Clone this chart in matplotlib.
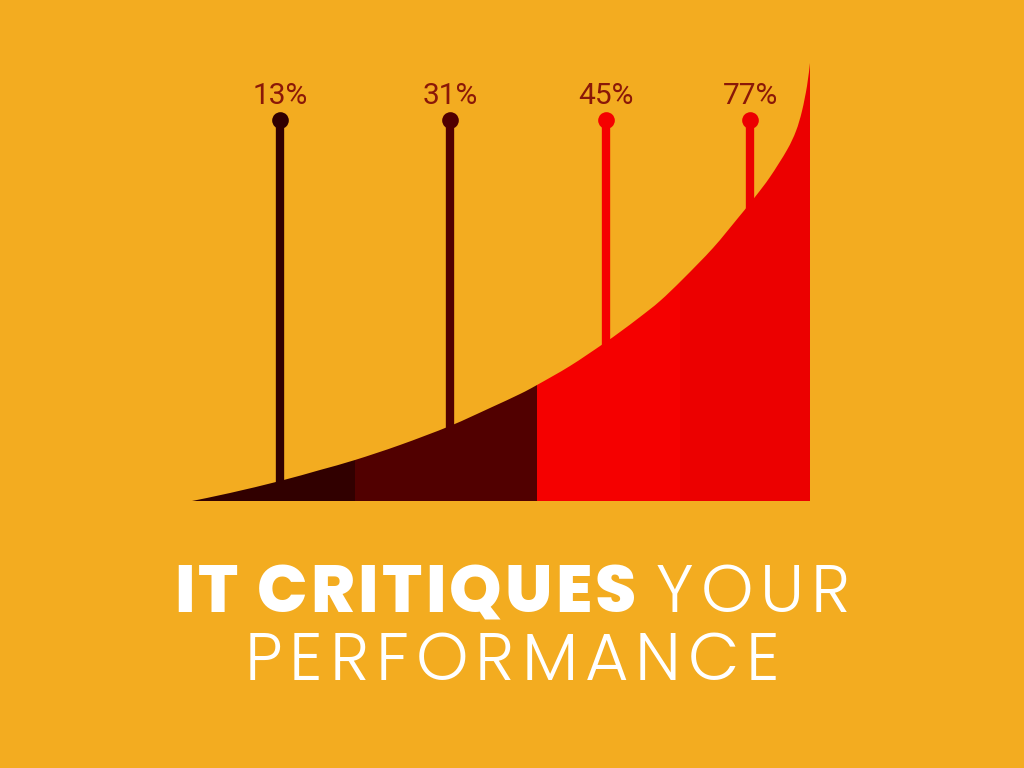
import matplotlib
matplotlib.use("Agg")
import matplotlib.pyplot as plt
from matplotlib.path import Path
from matplotlib.patches import PathPatch, Rectangle

# ---- data ----
curve_x = [192, 230, 280, 320, 355, 400, 450, 490, 520, 537, 570, 603, 620, 640, 660, 683, 713, 738, 755, 770, 787, 796, 802, 807, 810]
curve_h = [0, 8, 20, 31, 41, 56, 75, 93, 107, 116, 135, 157, 169, 184, 200, 222, 253, 283, 304, 324, 351, 370, 390, 415, 438]
segment_edges = [192, 355, 537, 680, 810]
segment_colors = ["#310000", "#510000", "#F50000", "#EC0000"]
pin_x = [280, 450, 606, 750]
pin_labels = ["13%", "31%", "45%", "77%"]
pin_colors = ["#310000", "#510000", "#F50000", "#EC0000"]
pin_top = 381
label_y = 405
bg = "#F3AC20"
label_color = "#8A1808"
title_bold = "IT CRITIQUES "
title_light1 = "YOUR"
title_light2 = "PERFORMANCE"

fig = plt.figure(figsize=(10.24, 7.68), dpi=100, facecolor=bg)
ax = fig.add_axes([0, 0, 1, 1])
ax.set_facecolor(bg)
ax.set_xlim(0, 1024)
ax.set_ylim(501 - 768, 501)
ax.axis("off")

# smooth area outline (Catmull-Rom through the read points, drawn as Bezier)
pts = list(zip(curve_x, curve_h))
verts = [(curve_x[0], 0)]
codes = [Path.MOVETO]
n = len(pts)
for i in range(n - 1):
    p0 = pts[i - 1] if i > 0 else pts[i]
    p1 = pts[i]
    p2 = pts[i + 1]
    p3 = pts[i + 2] if i + 2 < n else pts[i + 1]
    c1 = (p1[0] + (p2[0] - p0[0]) / 6, p1[1] + (p2[1] - p0[1]) / 6)
    c2 = (p2[0] - (p3[0] - p1[0]) / 6, p2[1] - (p3[1] - p1[1]) / 6)
    verts += [c1, c2, p2]
    codes += [Path.CURVE4] * 3
verts += [(curve_x[-1], 0), (curve_x[0], 0)]
codes += [Path.LINETO, Path.CLOSEPOLY]
area = PathPatch(Path(verts, codes), facecolor="none", edgecolor="none")
ax.add_patch(area)

for k, c in enumerate(segment_colors):
    x0, x1 = segment_edges[k], segment_edges[k + 1]
    r = Rectangle((x0, 0), x1 - x0, 600, facecolor=c, edgecolor="none", zorder=3)
    ax.add_patch(r)
    r.set_clip_path(area)

# pins
for x, lab, c in zip(pin_x, pin_labels, pin_colors):
    ax.plot([x, x], [0, pin_top], color=c, lw=6, solid_capstyle="butt", zorder=2)
    ax.plot([x], [pin_top], "o", ms=12, color=c, mec="none", zorder=2)
    ax.text(x, label_y, lab, ha="center", va="center", fontsize=21.5,
            family="Roboto", color=label_color, zorder=4)

# title with letter tracking
fig.canvas.draw()
rr = fig.canvas.get_renderer()
W = 1024
fs = 48
fam = ["Poppins", "Lato"]

def width_of(s, weight):
    if not s:
        return 0.0
    t = fig.text(0, 0, s.replace(" ", "\u00a0") if s.endswith(" ") else s,
                 family=fam, weight=weight, fontsize=fs)
    w = t.get_window_extent(rr).width
    t.remove()
    return w

def run_layout(s, weight, track):
    pos = []
    for i in range(len(s)):
        pos.append(width_of(s[:i], weight) + i * track)
    total = width_of(s, weight) + (len(s) - 1) * track
    return pos, total

def draw_run(s, weight, track, x0, ybase):
    pos, total = run_layout(s, weight, track)
    for ch, p in zip(s, pos):
        if ch != " ":
            fig.text((x0 + p) / W, ybase, ch, family=fam, weight=weight, fontsize=fs,
                     color="white", va="baseline", ha="left")
    return total

tb, tl = 3.1, 7.0
gap = 4.0
_, wb = run_layout(title_bold, 800, tb)
_, wl1 = run_layout(title_light1, 300, tl)
_, wl2 = run_layout(title_light2, 300, tl)
start1 = (W - (wb + gap + wl1)) / 2
base1 = 1 - 612 / 768
base2 = 1 - 680 / 768
draw_run(title_bold, 800, tb, start1, base1)
draw_run(title_light1, 300, tl, start1 + wb + gap, base1)
draw_run(title_light2, 300, tl, (W - wl2) / 2, base2)

fig.savefig("out.png", dpi=100, facecolor=bg)
